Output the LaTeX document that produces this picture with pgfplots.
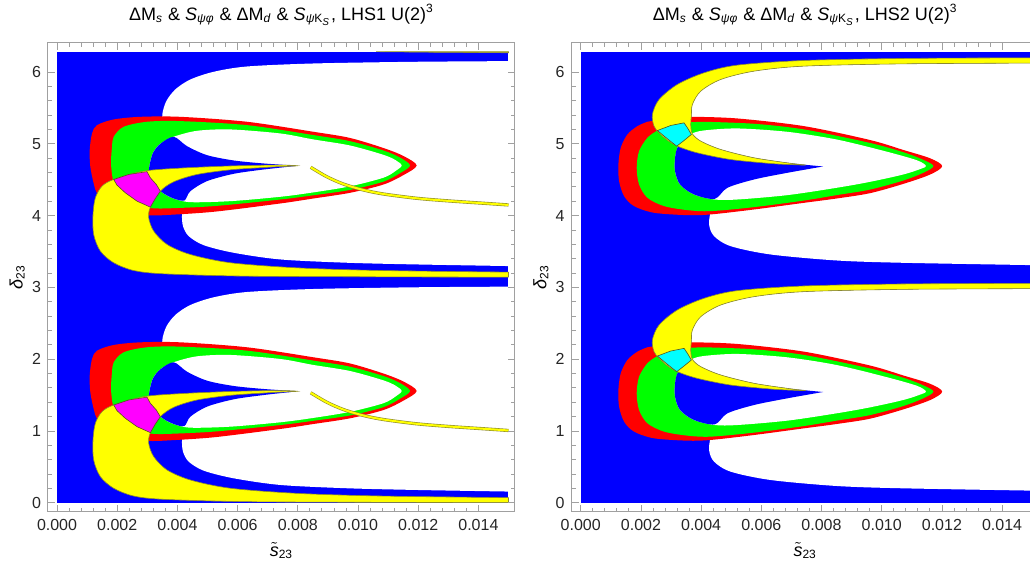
\documentclass[border=0pt]{standalone}
\usepackage{fontspec}
\setmainfont{Liberation Sans}
\usepackage{pgfplots}
\usepackage{pgfplotstable}
\pgfplotsset{compat=1.18}

\definecolor{rpblue}{HTML}{0000FF}
\definecolor{rpred}{HTML}{FF0000}
\definecolor{rpgreen}{HTML}{00FF00}
\definecolor{rpyellow}{HTML}{FFFF00}
\definecolor{rpmag}{HTML}{FF00FF}
\definecolor{rpcyan}{HTML}{00FFFF}
\definecolor{rpedge}{HTML}{8C8A2E}
\definecolor{rpframe}{HTML}{A0A0A0}

% ---------- LHS1: one period (0 < delta < pi), shifted by pi for the upper one
\pgfplotstableread{
x y
0.015 3.0096
0.011849 3.0004
0.008527 2.977
0.006312 2.935
0.005205 2.861
0.00443 2.754
0.003931 2.616
0.003632 2.453
0.003499 2.268
0.003544 2.081
0.003876 1.933
0.004319 1.802
0.004983 1.686
0.005869 1.616
0.006866 1.579
0.007885 1.552
0.006866 1.496
0.005869 1.431
0.004983 1.329
0.00443 1.198
0.00423 1.059
0.004153 0.874
0.004186 0.711
0.004374 0.572
0.004873 0.446
0.005869 0.340
0.00742 0.247
0.009635 0.201
0.011849 0.178
0.015 0.155
}\whiteL
\pgfplotstableread{
x y
0.002215 0.897
0.001661 0.990
0.001329 1.166
0.001218 1.305
0.001107 1.538
0.001085 1.769
0.001163 2.002
0.001329 2.118
0.001883 2.197
0.002769 2.234
0.004097 2.234
0.006312 2.165
0.008527 2.025
0.00973 1.940
0.01084 1.800
0.0115 1.690
0.01195 1.556
0.0115 1.420
0.01084 1.290
0.00973 1.175
0.0085 1.095
0.00742 1.027
0.005205 0.911
0.003544 0.864
0.003045 0.860
}\redL
\pgfplotstableread{
x y
0.002436 1.082
0.001993 1.245
0.00186 1.352
0.001794 1.584
0.001827 1.816
0.001883 1.956
0.002215 2.095
0.00299 2.165
0.004097 2.174
0.006312 2.118
0.008527 1.979
0.00973 1.895
0.01084 1.765
0.0114 1.665
0.01173 1.556
0.0114 1.450
0.01084 1.330
0.00973 1.215
0.0085 1.140
0.00742 1.082
0.005205 0.990
0.003544 0.957
0.003045 0.966
}\greenL
\pgfplotstableread{
x y
0.003045 1.440
0.003079 1.570
0.003189 1.732
0.003433 1.858
0.003876 1.956
0.004651 2.039
0.005759 2.058
0.00742 2.002
0.0085 1.920
0.00973 1.835
0.01084 1.705
0.01125 1.630
0.01145 1.556
0.01125 1.480
0.01084 1.385
0.00973 1.265
0.0085 1.180
0.00742 1.120
0.005759 1.059
0.00443 1.045
0.003876 1.096
0.003544 1.166
0.003267 1.268
0.003101 1.384
}\innerL
\pgfplotstableread{
x y
0.007918 1.548
0.006866 1.500
0.005869 1.440
0.004983 1.338
0.00443 1.198
0.00423 1.068
0.003876 1.096
0.003544 1.166
0.003267 1.268
0.003101 1.384
0.003045 1.440
0.003079 1.570
0.003189 1.732
0.003433 1.858
0.003876 1.956
0.004319 1.825
0.004983 1.700
0.005869 1.626
0.006866 1.584
0.007885 1.556
}\hornL
\pgfplotstableread{
x y
0.015 0.070
0.010742 0.093
0.007973 0.130
0.005759 0.201
0.00443 0.316
0.003654 0.456
0.003212 0.641
0.003045 0.827
0.003101 0.976
0.003433 1.198
0.003876 1.329
0.004651 1.431
0.005759 1.496
0.006866 1.528
0.0073 1.539
0.007996 1.552
0.0073 1.562
0.005759 1.549
0.004097 1.519
0.002879 1.477
0.001883 1.361
0.001495 1.268
0.001274 1.106
0.001196 0.874
0.001218 0.595
0.00144 0.363
0.001883 0.201
0.002547 0.093
0.003544 0.047
0.006312 0.014
0.010742 0.005
0.015 0.0
}\yellowL
\pgfplotstableread{
x y
0.001883 1.361
0.002381 1.431
0.00299 1.470
0.003101 1.384
0.0033 1.291
0.003433 1.198
0.003267 1.096
0.003101 0.976
0.002658 1.059
0.00227 1.175
0.001993 1.282
}\magL
\pgfplotstableread{
x y
0.008428 1.531
0.00896 1.400
0.009512 1.298
0.010176 1.215
0.01084 1.159
0.01195 1.099
0.013056 1.061
0.014163 1.030
0.015 1.006
}\tailL

% ---------- LHS2
\pgfplotstableread{
x y
0.015 2.982
0.010742 2.972
0.00742 2.940
0.005759 2.870
0.004651 2.754
0.003987 2.591
0.00371 2.406
0.003676 2.2435
0.00371 2.081
0.003931 1.895
0.004651 1.756
0.005759 1.654
0.006866 1.589
0.008051 1.542
0.006866 1.454
0.005759 1.361
0.004873 1.245
0.004452 1.106
0.004319 0.920
0.004264 0.734
0.00443 0.572
0.004983 0.432
0.006312 0.316
0.008527 0.232
0.010742 0.200
0.015 0.168
}\whiteR
\pgfplotstableread{
x y
0.00299 2.220
0.003676 2.234
0.005205 2.211
0.00742 2.104
0.00961 1.911
0.01072 1.772
0.01161 1.656
0.01201 1.547
0.01161 1.430
0.01072 1.300
0.00961 1.170
0.0085 1.096
0.00742 1.036
0.005759 0.943
0.004319 0.874
0.003544 0.864
0.002436 0.897
0.001772 0.990
0.00144 1.129
0.001274 1.338
0.001251 1.570
0.001329 1.802
0.00155 1.988
0.001883 2.104
0.002215 2.165
}\redR
\pgfplotstableread{
x y
0.0033 2.155
0.002879 2.104
0.002547 2.043
0.002215 1.942
0.001938 1.755
0.00186 1.523
0.001938 1.291
0.002215 1.106
0.002769 0.990
0.003544 0.934
0.004319 0.920
0.005759 0.976
0.00742 1.068
0.0085 1.143
0.00961 1.220
0.01072 1.347
0.01138 1.454
0.01172 1.547
0.01138 1.635
0.01072 1.740
0.00961 1.870
0.00742 2.058
0.005759 2.137
0.004097 2.165
}\greenR
\pgfplotstableread{
x y
0.003433 1.909
0.003676 1.997
0.004097 2.044
0.005205 2.072
0.006866 2.025
0.0085 1.918
0.0101 1.756
0.01116 1.630
0.01147 1.552
0.01133 1.514
0.01072 1.431
0.00961 1.328
0.0085 1.245
0.006866 1.143
0.005205 1.082
0.004452 1.082
0.003765 1.152
0.0033 1.291
0.003134 1.477
0.003134 1.663
0.003212 1.802
}\innerR
\pgfplotstableread{
x y
0.008051 1.542
0.006866 1.454
0.005759 1.361
0.004873 1.245
0.004452 1.091
0.003765 1.152
0.0033 1.291
0.003134 1.477
0.003134 1.663
0.003212 1.802
0.003433 1.909
0.003676 1.988
0.003987 1.895
0.004651 1.779
0.005759 1.663
0.006866 1.593
0.007475 1.565
}\hornR
\pgfplotstableread{
x y
0.015 2.982
0.010742 2.972
0.00742 2.940
0.005759 2.870
0.004651 2.754
0.003987 2.591
0.00371 2.406
0.003676 2.2435
0.003654 2.127
0.00371 1.997
0.003987 1.895
0.004651 1.779
0.005759 1.663
0.0070 1.585
0.007475 1.562
0.0070 1.568
0.006312 1.584
0.004983 1.639
0.003876 1.732
0.003212 1.825
0.002879 1.909
0.002603 2.011
0.002436 2.104
0.002381 2.267
0.002603 2.475
0.003212 2.685
0.004097 2.847
0.005205 2.954
0.00742 3.019
0.010742 3.047
0.015 3.056
}\yellowR
\pgfplotstableread{
x y
0.002547 2.043
0.00299 2.113
0.003433 2.150
0.003544 2.081
0.003676 1.988
0.003433 1.904
0.003189 1.825
0.002879 1.928
}\cyanR

\pgfplotsset{
  frameplot/.style={
    scale only axis, width=233.5pt, height=234.5pt,
    xmin=-0.0003, xmax=0.015216, ymin=-0.1296, ymax=6.404,
    axis on top, tick align=inside, tick pos=both,
    xtick={0,0.002,0.004,0.006,0.008,0.010,0.012,0.014},
    xticklabels={0.000,0.002,0.004,0.006,0.008,0.010,0.012,0.014},
    ytick={0,1,2,3,4,5,6}, yticklabels={0,1,2,3,4,5,6},
    minor x tick num=4, minor y tick num=4,
    scaled x ticks=false,
    /pgf/number format/assume math mode=true,
    axis line style={rpframe, line width=0.5pt},
    tick style={rpframe, line width=0.4pt},
    major tick length=3.5pt, minor tick length=2pt,
    tick label style={font=\fontsize{8}{9}\selectfont, text=black!85},
    every axis title/.style={at={(0.5,1.0597)}, anchor=center, font=\fontsize{9}{10}\selectfont},
    every axis x label/.style={at={(0.5,-0.082)}, anchor=center, font=\fontsize{9}{10}\selectfont},
    every axis y label/.style={at={(-0.066,0.5)}, anchor=center, rotate=90, font=\fontsize{9}{10}\selectfont},
    xlabel={$\tilde{\textit{s}}$\textsubscript{23}},
    ylabel={\textit{δ}\textsubscript{23}},
  },
  blob/.style={draw=none, smooth},
}

\newcommand\ringL[1]{%
  \addplot[fill=white, blob] table[x=x, y expr=\thisrow{y}+#1]{\whiteL} -- cycle;
  \addplot[fill=rpred, blob] table[x=x, y expr=\thisrow{y}+#1]{\redL} -- cycle;
  \addplot[fill=rpgreen, blob] table[x=x, y expr=\thisrow{y}+#1]{\greenL} -- cycle;
  \addplot[fill=white, blob] table[x=x, y expr=\thisrow{y}+#1]{\innerL} -- cycle;
  \addplot[fill=rpblue, blob] table[x=x, y expr=\thisrow{y}+#1]{\hornL} -- cycle;
  \addplot[fill=rpyellow, draw=rpedge, line width=0.3pt, smooth] table[x=x, y expr=\thisrow{y}+#1]{\yellowL} -- cycle;
  \addplot[fill=rpmag, draw=rpedge!60!black, line width=0.3pt] table[x=x, y expr=\thisrow{y}+#1]{\magL} -- cycle;
  \addplot[draw=rpedge, line width=1.6pt, smooth] table[x=x, y expr=\thisrow{y}+#1]{\tailL};
  \addplot[draw=rpyellow, line width=1.0pt, smooth] table[x=x, y expr=\thisrow{y}+#1]{\tailL};
}
\newcommand\ringR[1]{%
  \addplot[fill=white, blob] table[x=x, y expr=\thisrow{y}+#1]{\whiteR} -- cycle;
  \addplot[fill=rpred, blob] table[x=x, y expr=\thisrow{y}+#1]{\redR} -- cycle;
  \addplot[fill=rpgreen, blob] table[x=x, y expr=\thisrow{y}+#1]{\greenR} -- cycle;
  \addplot[fill=white, blob] table[x=x, y expr=\thisrow{y}+#1]{\innerR} -- cycle;
  \addplot[fill=rpblue, blob] table[x=x, y expr=\thisrow{y}+#1]{\hornR} -- cycle;
  \addplot[fill=rpyellow, draw=rpedge, line width=0.3pt, smooth] table[x=x, y expr=\thisrow{y}+#1]{\yellowR} -- cycle;
  \addplot[fill=rpcyan, draw=rpedge!60!black, line width=0.3pt] table[x=x, y expr=\thisrow{y}+#1]{\cyanR} -- cycle;
}

\begin{document}
\begin{tikzpicture}
\begin{axis}[frameplot, at={(24pt,27.5pt)}, anchor=south west,
  title={ΔM\textsubscript{\textit{s}} \& \textit{S}\textsubscript{\textit{ψφ}} \& ΔM\textsubscript{\textit{d}} \& \textit{S}\textsubscript{\textit{ψ}K\textsubscript{\textit{S}}}, LHS1 U(2)\textsuperscript{3}}]
\addplot[fill=rpblue, draw=none] coordinates {(0,0) (0.015,0) (0.015,6.2832) (0,6.2832)} -- cycle;
\ringL{0}
\ringL{3.14159}
\addplot[fill=rpyellow, draw=rpedge, line width=0.3pt] coordinates {(0.0106,6.2832) (0.015,6.2832) (0.015,6.268) (0.0125,6.275)} -- cycle;
\end{axis}

\begin{axis}[frameplot, at={(285.85pt,27.5pt)}, anchor=south west,
  title={ΔM\textsubscript{\textit{s}} \& \textit{S}\textsubscript{\textit{ψφ}} \& ΔM\textsubscript{\textit{d}} \& \textit{S}\textsubscript{\textit{ψ}K\textsubscript{\textit{S}}}, LHS2 U(2)\textsuperscript{3}}]
\addplot[fill=rpblue, draw=none] coordinates {(0,0) (0.015,0) (0.015,6.2832) (0,6.2832)} -- cycle;
\ringR{0}
\ringR{3.14159}
\end{axis}
\pgfresetboundingbox
\path[use as bounding box] (0,0) rectangle (515pt,283.5pt);
\end{tikzpicture}
\end{document}
